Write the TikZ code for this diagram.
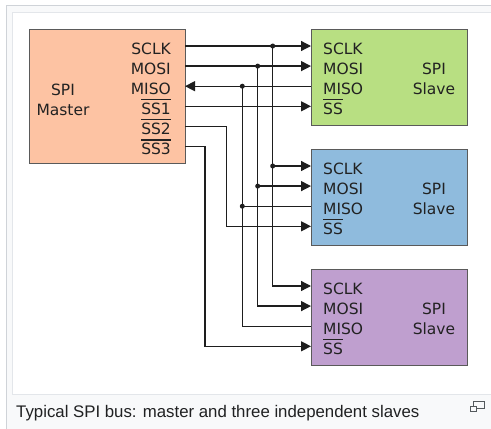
\documentclass[tikz,border=0pt]{standalone}
\usepackage{fontspec}
\setmainfont{DejaVu Sans}
\newfontfamily\capfont{Liberation Sans}
\usetikzlibrary{arrows.meta}
\definecolor{peach}{HTML}{FDC3A3}
\definecolor{sgreen}{HTML}{B8DF82}
\definecolor{sblue}{HTML}{8FBBDD}
\definecolor{spurple}{HTML}{BF9FCF}
\definecolor{boxline}{HTML}{5A5A5A}
\definecolor{wirecol}{HTML}{1E1E1E}
\definecolor{txtcol}{HTML}{222222}
\definecolor{frameout}{HTML}{CFD3D8}
\definecolor{framein}{HTML}{E3E6EA}
\definecolor{capbg}{HTML}{F8F9FA}
\definecolor{captxt}{HTML}{202122}
\definecolor{iconcol}{HTML}{54595D}
\newcommand\ovl[1]{\setbox0\hbox{#1}\rlap{\rule[14pt]{\wd0}{1.1pt}}\box0}
\begin{document}
\begin{tikzpicture}[x=1pt,y=-1pt,
  chip/.style={draw=boxline,line width=1.4pt,inner sep=0pt,anchor=north west},
  lbl/.style={text=txtcol,inner sep=0pt,font=\fontsize{15.5}{18}\selectfont},
  wire/.style={draw=wirecol,line width=1.3pt},
  arr/.style={wire,-{Triangle[length=10pt,width=10pt]}},
  dot/.style={fill=wirecol,circle,inner sep=0pt,minimum size=5pt}]
\clip (0,0) rectangle (491,429);
% frame
\fill[capbg] (6.5,5.5) rectangle (500,440);
\draw[frameout,line width=1pt] (6.5,440) -- (6.5,5.5) -- (500,5.5);
\fill[white] (12.5,12) rectangle (500,394);
\draw[framein,line width=1pt] (500,394) -- (12.5,394) -- (12.5,12) -- (500,12);
% boxes
\node[chip,fill=peach,minimum width=156pt,minimum height=134pt] (master) at (29,29) {};
\node[chip,fill=sgreen,minimum width=156pt,minimum height=95.5pt] (s1) at (311,29) {};
\node[chip,fill=sblue,minimum width=156pt,minimum height=95.5pt] (s2) at (311,149) {};
\node[chip,fill=spurple,minimum width=156pt,minimum height=95.5pt] (s3) at (311,269) {};
% master labels
\node[lbl,anchor=base] (mspi) at (63,95) {SPI};
\node[lbl,anchor=base] (mmas) at (63,115) {Master};
\node[lbl,anchor=base east] (lm1) at (171,54) {SCLK};
\node[lbl,anchor=base east] (lm2) at (171,74.1) {MOSI};
\node[lbl,anchor=base east] (lm3) at (171,94.2) {MISO};
\node[lbl,anchor=base east] (lm4) at (171,114.3) {\ovl{SS1}};
\node[lbl,anchor=base east] (lm5) at (171,134.4) {\ovl{SS2}};
\node[lbl,anchor=base east] (lm6) at (171,154.5) {\ovl{SS3}};
% slave labels
\foreach \s/\o in {1/0,2/120,3/240}{
  \node[lbl,anchor=base west] (l\s a) at (323,54+\o) {SCLK};
  \node[lbl,anchor=base west] (l\s b) at (323,74.1+\o) {MOSI};
  \node[lbl,anchor=base west] (l\s c) at (323,94.2+\o) {MISO};
  \node[lbl,anchor=base west] (l\s d) at (323,114.3+\o) {\ovl{SS}};
  \node[lbl,anchor=base] (l\s spi) at (434,74.1+\o) {SPI};
  \node[lbl,anchor=base] (l\s sl) at (434,94.2+\o) {Slave};
}
% pin coordinates
\coordinate (m1) at (185,46);
\coordinate (m2) at (185,66.1);
\coordinate (m3) at (185,86.2);
\coordinate (m4) at (185,106.3);
\coordinate (m5) at (185,126.4);
\coordinate (m6) at (185,146.5);
\foreach \s/\o in {1/0,2/120,3/240}{
  \coordinate (s\s a) at (311,46+\o);
  \coordinate (s\s b) at (311,66.1+\o);
  \coordinate (s\s c) at (311,86.2+\o);
  \coordinate (s\s d) at (311,106.3+\o);
}
% bus x positions
\coordinate (bA) at (272.7,0);
\coordinate (bB) at (257.7,0);
\coordinate (bC) at (242.3,0);
\coordinate (bD) at (226.7,0);
\coordinate (bE) at (205,0);
% SCLK
\draw[arr] (m1) -- (s1a);
\draw[arr] (bA |- m1) |- (s3a);
\draw[arr] (bA |- s2a) -- (s2a);
\node[dot] (dA1) at (bA |- m1) {};
\node[dot] (dA2) at (bA |- s2a) {};
% MOSI
\draw[arr] (m2) -- (s1b);
\draw[arr] (bB |- m2) |- (s3b);
\draw[arr] (bB |- s2b) -- (s2b);
\node[dot] (dB1) at (bB |- m2) {};
\node[dot] (dB2) at (bB |- s2b) {};
% MISO
\draw[arr] (s1c) -- (m3);
\draw[wire] (bC |- m3) |- (s3c);
\draw[wire] (bC |- s2c) -- (s2c);
\node[dot] (dC1) at (bC |- m3) {};
\node[dot] (dC2) at (bC |- s2c) {};
% SS lines
\draw[arr] (m4) -- (s1d);
\draw[arr] (m5) -| (bD |- s2d) -- (s2d);
\draw[arr] (m6) -| (bE |- s3d) -- (s3d);
% caption
\node[anchor=base west,inner sep=0pt,text=captxt,font=\capfont\fontsize{16.8}{20}\selectfont] (cap) at (16,417) {Typical SPI bus: master and three independent slaves};
% enlarge icon
\draw[iconcol,line width=1pt] (473.5,401.5) rectangle (484,408);
\filldraw[fill=capbg,draw=iconcol,line width=1pt] (470.5,406) rectangle (476,411);
\end{tikzpicture}
\end{document}
